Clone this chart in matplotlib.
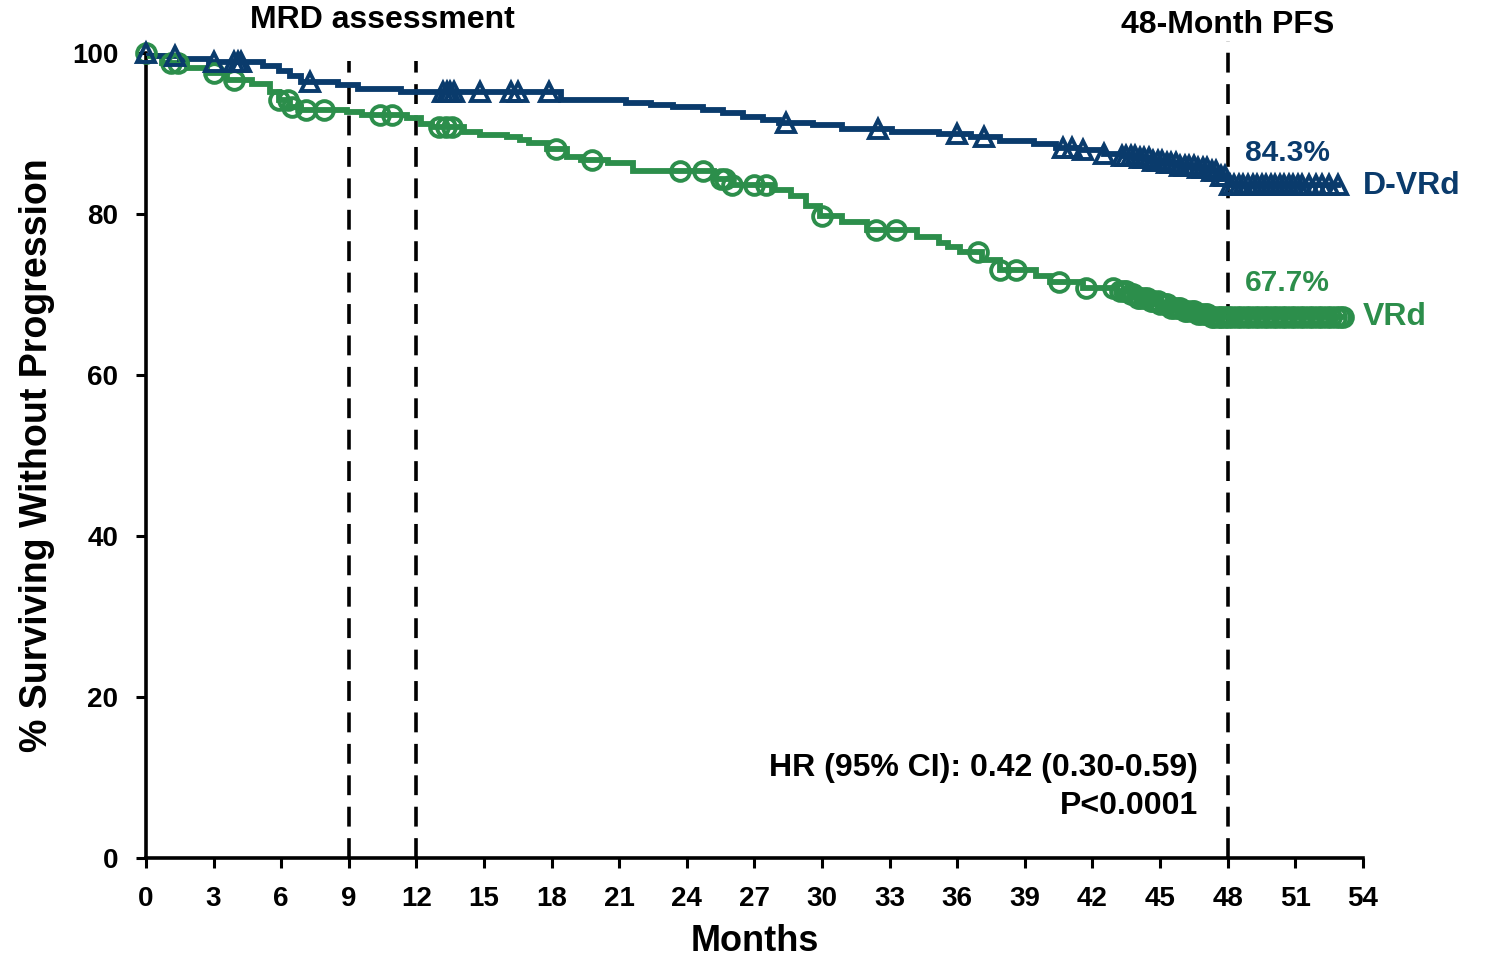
import numpy as np
import matplotlib
matplotlib.use("Agg")
import matplotlib.pyplot as plt

plt.rcParams["font.family"] = ["Liberation Sans", "DejaVu Sans"]
plt.rcParams["font.weight"] = "bold"
plt.rcParams["axes.labelweight"] = "bold"

BLUE = "#0A3B6C"
GREEN = "#2C8E4B"

# D-VRd: step times (months) and survival (%)
dvrd_t = [0, 0.4, 1.5, 2.8, 5.2, 5.9, 6.4, 6.9, 8.5, 9.4, 11.3, 18.4, 21.3, 22.4,
          23.4, 24.7, 25.6, 26.5, 27.4, 28.1, 29.6, 30.9, 33.1, 35.2, 36.6, 37.9,
          39.4, 40.4, 41.4, 42.5, 43.3, 44.0, 44.6, 45.2, 45.9, 46.6, 47.3, 47.7, 48.0]
dvrd_s = [100, 99.6, 99.3, 98.9, 98.4, 97.7, 97.1, 96.4, 96.0, 95.5, 95.1, 94.2, 93.8, 93.5,
          93.3, 92.9, 92.6, 92.1, 91.7, 91.3, 91.0, 90.6, 90.2, 89.9, 89.6, 89.1,
          88.7, 88.2, 87.9, 87.5, 87.2, 86.9, 86.6, 86.3, 86.0, 85.7, 85.3, 84.7, 83.6]
dvrd_cens = [0, 1.3, 3.0, 3.9, 4.1, 4.2, 7.3, 13.2, 13.35, 13.5, 13.65, 14.8, 16.2, 16.5,
             17.9, 28.4, 32.5, 36.0, 37.2, 40.7, 41.1, 41.6, 42.5, 43.3,
             43.5, 43.7, 43.9, 44.1, 44.3, 44.5, 44.7, 44.9, 45.1, 45.3, 45.5, 45.7,
             45.9, 46.1, 46.3, 46.5, 46.7, 46.9, 47.1, 47.3, 47.5, 47.7, 47.9,
             48.1, 48.3, 48.5, 48.7, 48.9, 49.1, 49.3, 49.5, 49.7, 49.9, 50.1, 50.3,
             50.5, 50.7, 50.9, 51.1, 51.3, 51.6, 51.9, 52.2, 52.5, 52.9]

# VRd: step times (months) and survival (%)
vrd_t = [0, 0.2, 0.7, 1.8, 2.7, 3.6, 4.7, 5.5, 5.9, 6.4, 6.9, 8.9, 9.6, 11.6, 12.2, 12.7,
         14.1, 14.8, 16.0, 16.6, 17.0, 17.8, 18.7, 19.3, 20.5, 21.6, 25.2, 26.0, 27.8,
         28.6, 29.3, 29.9, 30.9, 32.0, 34.2, 35.2, 35.6, 36.1, 37.1, 37.9, 39.5, 40.1,
         41.6, 43.1, 43.6, 44.0, 44.5, 45.0, 45.5, 46.0, 46.6, 47.3]
vrd_s = [100, 99.6, 98.7, 98.1, 97.5, 96.6, 96.2, 95.2, 94.2, 93.3, 92.9, 92.7, 92.3, 91.9, 91.2, 90.8,
         90.2, 89.8, 89.5, 89.2, 88.8, 88.1, 87.1, 86.7, 86.3, 85.3, 84.4, 83.6, 83.0,
         82.2, 81.0, 79.7, 79.0, 78.0, 77.2, 76.4, 75.9, 75.3, 74.3, 73.0, 72.3, 71.5,
         70.8, 70.4, 70.0, 69.6, 69.2, 68.8, 68.3, 67.9, 67.6, 67.2]
vrd_cens = [0, 1.1, 1.4, 3.0, 3.9, 5.9, 6.3, 6.5, 7.1, 7.9, 10.4, 10.9, 13.0, 13.3, 13.6,
            18.2, 19.8, 23.7, 24.7, 25.5, 25.7, 26.0, 27.0, 27.5, 30.0, 32.4, 33.3,
            36.9, 37.9, 38.6, 40.5, 41.7, 42.9,
            43.2, 43.4, 43.5, 43.7, 43.8, 44.0, 44.1, 44.3, 44.4, 44.6, 44.7, 44.9,
            45.0, 45.2, 45.3, 45.5, 45.6, 45.8, 45.9, 46.1, 46.2, 46.4, 46.5, 46.7,
            46.8, 47.0, 47.1, 47.3, 47.4, 47.6, 47.7, 47.9, 48.0, 48.2, 48.4, 48.6,
            48.8, 49.0, 49.2, 49.4, 49.6, 49.8, 50.0, 50.2, 50.4, 50.6, 50.8, 51.0,
            51.2, 51.4, 51.6, 51.8, 52.0, 52.2, 52.4, 52.6, 52.8, 53.0, 53.1]


def km_at(times, surv, when):
    idx = np.searchsorted(times, when, side="right") - 1
    return np.asarray(surv)[idx]


fig = plt.figure(figsize=(14.85, 9.63), dpi=100)
ax = fig.add_axes([0.0983, 0.109, 0.8195, 0.836])

for t, s, cens, col, mk in [(vrd_t, vrd_s, vrd_cens, GREEN, "o"),
                            (dvrd_t, dvrd_s, dvrd_cens, BLUE, "^")]:
    end = max(cens)
    ax.step(t + [end], s + [s[-1]], where="post", color=col, lw=4.2,
            solid_joinstyle="miter", zorder=3)
    ax.plot(cens, km_at(t, s, cens), ls="none", marker=mk, ms=13.5,
            mfc="none", mec=col, mew=2.8, zorder=4, clip_on=False)

# landmark lines
for x, top in [(9, 99), (12, 99), (48, 101.5)]:
    ax.plot([x, x], [0, top], color="black", lw=2.6, dashes=(5.5, 3.2),
            clip_on=False, zorder=2)

ax.text(10.5, 104.1, "MRD assessment", ha="center", va="center", fontsize=23)
ax.text(48, 103.5, "48-Month PFS", ha="center", va="center", fontsize=23)
ax.text(48.76, 87.6, "84.3%", color=BLUE, ha="left", va="center", fontsize=21.5)
ax.text(54.0, 83.5, "D-VRd", color=BLUE, ha="left", va="center", fontsize=23,
        clip_on=False)
ax.text(48.76, 71.4, "67.7%", color=GREEN, ha="left", va="center", fontsize=21.5)
ax.text(54.0, 67.2, "VRd", color=GREEN, ha="left", va="center", fontsize=23,
        clip_on=False)
ax.text(46.67, 11.2, "HR (95% CI): 0.42 (0.30-0.59)", ha="right", va="center",
        fontsize=23)
ax.text(46.67, 6.5, "P<0.0001", ha="right", va="center", fontsize=23)

ax.set_xlim(0, 54)
ax.set_ylim(0, 100)
ax.set_xticks(np.arange(0, 55, 3))
ax.set_yticks(np.arange(0, 101, 20))
ax.tick_params(direction="out", length=7, width=2.2, labelsize=20, pad=13)
for side in ["top", "right"]:
    ax.spines[side].set_visible(False)
for side in ["left", "bottom"]:
    ax.spines[side].set_linewidth(2.6)
ax.set_xlabel("Months", fontsize=26, fontweight="bold", labelpad=9)
ax.set_ylabel("% Surviving Without Progression", fontsize=27, fontweight="bold",
              labelpad=12)

fig.savefig("out.png", dpi=100)
